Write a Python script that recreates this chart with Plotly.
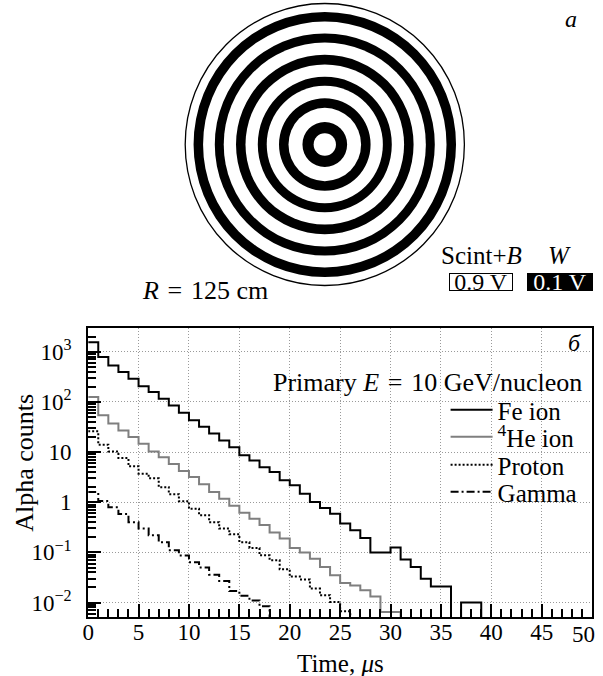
import numpy as np
import plotly.graph_objects as go

W, H = 603, 676

# ---------------- data ----------------
bin_edges = list(range(0, 51))  # time, microseconds

fe_counts = [1550, 780, 533, 392, 290, 204, 157, 115, 85, 61,
             43, 32, 23.5, 17, 12.5, 8.6, 6.8, 5.0, 4.0, 2.73,
             2.17, 1.48, 1.01, 0.77, 0.59, 0.375, 0.275, 0.194, 0.10, 0.10,
             0.125, 0.072, 0.051, 0.030, 0.021, 0.021, 0, 0.01, 0.01, 0,
             0, 0, 0, 0, 0, 0, 0, 0, 0, 0]
he_counts = [125, 54, 37, 27, 20, 14.7, 10.3, 7.9, 5.8, 4.2,
             3.2, 2.27, 1.6, 1.17, 0.85, 0.62, 0.47, 0.35, 0.25, 0.19,
             0.122, 0.10, 0.075, 0.051, 0.035, 0.0245, 0.022, 0.0176, 0.0133, 0.0065,
             0.0065, 0, 0, 0, 0, 0, 0, 0, 0, 0,
             0, 0, 0, 0, 0, 0, 0, 0, 0, 0]
proton_counts = [26, 14, 10.3, 7.6, 5.2, 3.7, 3.0, 2.0, 1.45, 1.05,
                 0.74, 0.55, 0.40, 0.30, 0.23, 0.16, 0.123, 0.0875, 0.070, 0.046,
                 0.033, 0.029, 0.019, 0.014, 0.0103, 0.0067, 0, 0, 0, 0,
                 0, 0, 0, 0, 0, 0, 0, 0, 0, 0,
                 0, 0, 0, 0, 0, 0, 0, 0, 0, 0]
gamma_counts = [1.6, 1.06, 0.79, 0.58, 0.40, 0.30, 0.22, 0.16, 0.11, 0.087,
                0.064, 0.050, 0.036, 0.027, 0.017, 0.0137, 0.011, 0.0085, 0, 0,
                0, 0, 0, 0, 0, 0, 0, 0, 0, 0,
                0, 0, 0, 0, 0, 0, 0, 0, 0, 0,
                0, 0, 0, 0, 0, 0, 0, 0, 0, 0]

series_names = ["Fe ion", "<sup>4</sup>He ion", "Proton", "Gamma"]

y_tickvals = [0.01, 0.1, 1, 10, 100, 1000]
y_ticktext = ["10<sup>\u22122</sup>", "10<sup>\u22121</sup>", "1", "10", "10<sup>2</sup>", "10<sup>3</sup>"]
x_tickvals = [0, 5, 10, 15, 20, 25, 30, 35, 40, 45, 50]
# the last label ("50") is drawn pulled left inside the page, as in the original
x_ticktext = ["0", "5", "10", "15", "20", "25", "30", "35", "40", "45", ""]
x_last_label = "50"

# detector cross-section: radius and black (W) ring radii in cm
outer_radius = 125
ring_outer = [117.5, 98.5, 79.5, 60.0, 41.0, 20.0]
ring_inner = [109.0, 90.5, 71.0, 52.0, 32.5, 10.0]

FONT = "Liberation Serif"
TXT = 26
TICK = 23
LEG = 25


def px(x):
    return x / W


def py(y):
    return 1 - y / H


fig = go.Figure()

# ---------------- histograms ----------------
styles = [
    dict(color="black", width=2),
    dict(color="#7f7f7f", width=2),
    dict(color="black", width=2, dash="2px,2px"),
    dict(color="black", width=2, dash="8px,3px,2px,3px"),
]
legend_ids = ["legend", "legend2", "legend3", "legend4"]
legend_y = [410, 437, 465, 492]
for name, counts, st, lid in zip(series_names, [fe_counts, he_counts, proton_counts, gamma_counts],
                                 styles, legend_ids):
    c = np.array(counts, dtype=float)
    c = np.where(c > 0, c, 1e-5)  # empty bins drawn below the axis
    yv = np.append(c, c[-1])
    fig.add_trace(go.Scatter(x=bin_edges, y=yv, mode="lines", line=st, line_shape="hv",
                             name=name, xaxis="x", yaxis="y", legend=lid))

# ---------------- top panel rings ----------------
shapes = []
shapes.append(dict(type="circle", xref="x2", yref="y2", x0=-outer_radius, y0=-outer_radius,
                   x1=outer_radius, y1=outer_radius, line=dict(color="black", width=1.3),
                   fillcolor="white", layer="above"))
for ro, ri in zip(ring_outer, ring_inner):
    shapes.append(dict(type="circle", xref="x2", yref="y2", x0=-ro, y0=-ro, x1=ro, y1=ro,
                       line=dict(width=0), fillcolor="black", layer="above"))
    shapes.append(dict(type="circle", xref="x2", yref="y2", x0=-ri, y0=-ri, x1=ri, y1=ri,
                       line=dict(width=0), fillcolor="white", layer="above"))
fig.add_trace(go.Scatter(x=[0], y=[0], mode="markers", marker=dict(size=0.1, color="white"),
                         xaxis="x2", yaxis="y2", showlegend=False, hoverinfo="skip"))

scale = 141 / outer_radius  # px per cm
top_h = 300
cx, cy = 322, 144.5


def ann(text, x, y, size=TXT, **kw):
    color = kw.pop("color", "black")
    d = dict(text=text, x=px(x), y=py(y), xref="paper", yref="paper", showarrow=False,
             xanchor="center", yanchor="middle", font=dict(size=size, color=color))
    d.update(kw)
    return d


SP = "\u2004"
annotations = [
    ann("<i>\u0430</i>", 571, 19, size=24),
    ann(f"<i>R</i>{SP}={SP}125 cm", 201, 290),
    ann("Scint+<i>B</i>", 480, 255, size=25),
    ann("<i>W</i>", 559, 255, size=25),
    ann("0.9 V", 480, 281.5, size=24, bordercolor="black", borderwidth=1, bgcolor="white",
        borderpad=0, width=62, height=16),
    ann("0.1 V", 560, 281.5, size=24, color="white", bordercolor="black", borderwidth=1,
        bgcolor="black", borderpad=0, width=64, height=16),
    ann("<i>\u0431</i>", 574, 343, size=24),
    ann(f"Primary <i>E</i>{SP}={SP}10 GeV/nucleon", 584, 383, xanchor="right"),
    ann("Alpha counts", 18, 463, textangle=-90),
    ann("Time, <i>\u03bc</i>s", 338, 663, size=25),
    ann(x_last_label, 583, 634, size=TICK),
]

minor_y = [m * 10.0 ** e for e in range(-3, 4) for m in range(2, 10)]

GRID = dict(showgrid=True, gridcolor="#9a9a9a", griddash="1px,2px", gridwidth=1)

legends = {}
for lid, ly in zip(legend_ids, legend_y):
    legends[lid] = dict(x=px(444), y=py(ly), xanchor="left", yanchor="middle",
                        bgcolor="rgba(0,0,0,0)", font=dict(size=LEG), itemwidth=42)

fig.update_layout(
    width=W, height=H,
    margin=dict(l=0, r=0, t=0, b=0),
    paper_bgcolor="white", plot_bgcolor="white",
    font=dict(family=FONT, size=TXT, color="black"),
    showlegend=True,
    shapes=shapes,
    annotations=annotations,
    xaxis=dict(domain=[px(83), px(592)], range=[0, 50], anchor="y",
               tickvals=x_tickvals, ticktext=x_ticktext, ticks="inside", ticklen=13, tickwidth=1.5,
               tickcolor="black", ticklabelstandoff=-7,
               showline=True, linewidth=2, linecolor="black", mirror=True,
               zeroline=False, tickfont=dict(size=TICK), **GRID,
               minor=dict(dtick=1, ticks="inside", ticklen=8, tickwidth=1.5, tickcolor="black",
                          showgrid=False)),
    yaxis=dict(domain=[py(617), py(328)], type="log", range=[-2.287, 3.472], anchor="x",
               tickvals=y_tickvals, ticktext=y_ticktext, ticks="inside", ticklen=13, tickwidth=1.5,
               tickcolor="black", ticklabelstandoff=10,
               showline=True, linewidth=2, linecolor="black", mirror=True,
               zeroline=False, tickfont=dict(size=TICK), **GRID,
               minor=dict(tickvals=minor_y, ticks="inside", ticklen=8, tickwidth=1.5,
                          tickcolor="black", showgrid=False)),
    xaxis2=dict(domain=[0, 1], range=[-cx / scale, (W - cx) / scale], anchor="y2", visible=False),
    yaxis2=dict(domain=[py(top_h), 1], range=[-(top_h - cy) / scale, cy / scale], anchor="x2",
                visible=False),
    **legends,
)

post = ("document.body.style.margin='0';"
        "document.body.style.overflow='hidden';"
        "document.documentElement.style.overflow='hidden';")
fig.write_html("out.html", post_script=post, config={"displayModeBar": False})
